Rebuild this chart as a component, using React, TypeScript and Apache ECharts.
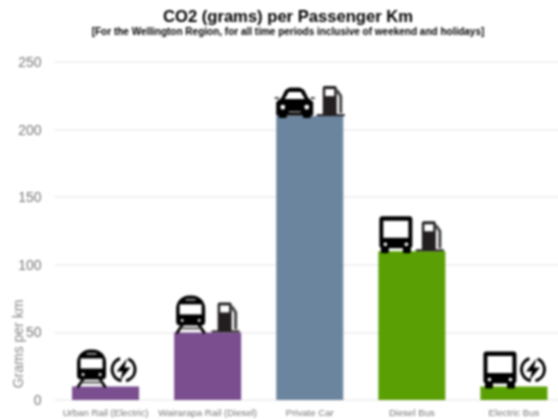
import React, { useEffect, useRef } from "react";
import * as echarts from "echarts";

const categories = ["Urban Rail (Electric)", "Wairarapa Rail (Diesel)", "Private Car", "Diesel Bus", "Electric Bus"];
const co2Values = [10, 50, 210, 110, 10];
const barColors = ["#7a4e8f", "#7a4e8f", "#6c859e", "#5aa004", "#5aa004"];
const vehicleKinds = ["train", "train", "car", "bus", "bus"];
const fuelKinds = ["bolt", "pump", "pump", "pump", "bolt"];
const yTicks = { min: 0, max: 250, interval: 50 };

const vehicleOffsets = [-14, -17, -15, -16, -14];
const fuelOffsets = [18, 4, 7, 4, 19];

const BLACK = "#000000";
const PUMP = "#231f20";

function train(): any[] {
  const f = { fill: BLACK };
  const w = { fill: "#fff" };
  return [
    { type: "line", shape: { x1: -8, y1: -9, x2: -14, y2: 0 }, style: { stroke: BLACK, lineWidth: 2.8 } },
    { type: "line", shape: { x1: 8, y1: -9, x2: 14, y2: 0 }, style: { stroke: BLACK, lineWidth: 2.8 } },
    { type: "line", shape: { x1: -10, y1: -5, x2: 10, y2: -5 }, style: { stroke: "#555", lineWidth: 2 } },
    { type: "rect", shape: { x: -14.5, y: -38, width: 29, height: 30, r: [13, 13, 4, 4] }, style: f },
    { type: "rect", shape: { x: -11, y: -29, width: 22, height: 10 }, style: w },
    { type: "rect", shape: { x: -5, y: -34.5, width: 10, height: 1.6 }, style: { fill: "#aaa" } },
    { type: "circle", shape: { cx: -8.5, cy: -13, r: 1.4 }, style: w },
    { type: "circle", shape: { cx: 8.5, cy: -13, r: 1.4 }, style: w },
  ];
}

function car(): any[] {
  const f = { fill: BLACK };
  const w = { fill: "#fff" };
  return [
    { type: "polygon", shape: { points: [[-13, -19], [-9, -27], [-5, -29], [5, -29], [9, -27], [13, -19], [18, -15], [18, -2], [-18, -2], [-18, -15]] }, style: { fill: BLACK, stroke: BLACK, lineWidth: 1 } },
    { type: "rect", shape: { x: -20, y: -20, width: 4, height: 2 }, style: { fill: "#444" } },
    { type: "rect", shape: { x: 16, y: -20, width: 4, height: 2 }, style: { fill: "#444" } },
    { type: "rect", shape: { x: -16, y: -3, width: 8, height: 4, r: 1 }, style: f },
    { type: "rect", shape: { x: 8, y: -3, width: 8, height: 4, r: 1 }, style: f },
    { type: "polygon", shape: { points: [[-10, -18], [-6, -25], [6, -25], [10, -18]] }, style: w },
    { type: "circle", shape: { cx: -12, cy: -10, r: 2.4 }, style: w },
    { type: "circle", shape: { cx: 12, cy: -10, r: 2.4 }, style: w },
    { type: "rect", shape: { x: -6, y: -6, width: 12, height: 1.6 }, style: { fill: "#888" } },
  ];
}

function bus(): any[] {
  const f = { fill: BLACK };
  const w = { fill: "#fff" };
  return [
    { type: "rect", shape: { x: -16.5, y: -36, width: 33, height: 32, r: 3 }, style: f },
    { type: "rect", shape: { x: -15, y: -6, width: 8, height: 7, r: 1.5 }, style: f },
    { type: "rect", shape: { x: 7, y: -6, width: 8, height: 7, r: 1.5 }, style: f },
    { type: "rect", shape: { x: -12.5, y: -31.5, width: 25, height: 17 }, style: w },
    { type: "circle", shape: { cx: -10.5, cy: -8, r: 1.8 }, style: w },
    { type: "circle", shape: { cx: 10.5, cy: -8, r: 1.8 }, style: w },
  ];
}

function pump(): any[] {
  return [
    { type: "rect", shape: { x: 0, y: -2, width: 28, height: 2 }, style: { fill: PUMP } },
    { type: "rect", shape: { x: 6, y: -30, width: 14, height: 29, r: [2, 2, 0, 0] }, style: { fill: PUMP } },
    { type: "rect", shape: { x: 8.5, y: -27, width: 9, height: 7 }, style: { fill: "#fff" } },
    { type: "polyline", shape: { points: [[20, -26], [24, -20], [24, -3]] }, style: { stroke: "#444", lineWidth: 3, fill: "none" } },
  ];
}

function bolt(): any[] {
  return [
    { type: "arc", shape: { cx: 0, cy: -17, r: 11.5, startAngle: 1.75, endAngle: 4.4 }, style: { stroke: BLACK, lineWidth: 3, fill: "none" } },
    { type: "arc", shape: { cx: 0, cy: -17, r: 11.5, startAngle: -1.15, endAngle: 1.35 }, style: { stroke: BLACK, lineWidth: 3, fill: "none" } },
    { type: "polygon", shape: { points: [[3.5, -28], [-7, -15], [-1, -15], [-3.5, -6], [7, -19], [1, -19]] }, style: { fill: BLACK } },
  ];
}

const shapes: Record<string, () => any[]> = { train, car, bus, pump, bolt };

export default function App() {
  const ref = useRef<HTMLDivElement>(null);
  useEffect(() => {
    document.body.style.margin = "0";
    const chart = echarts.init(ref.current!, undefined, { renderer: "svg" });
    chart.setOption({
      animation: false,
      backgroundColor: "#fff",
      textStyle: { fontFamily: "Liberation Sans" },
      grid: { left: 54.5, right: 0, top: 62, bottom: 19, containLabel: false },
      title: [
        {
          text: "CO2 (grams) per Passenger Km",
          left: 283,
          top: 3,
          textAlign: "center",
          textStyle: { fontSize: 16.6, fontWeight: "bold", color: "#000", fontFamily: "Liberation Sans" },
        },
        {
          text: "[For the Wellington Region, for all time periods inclusive of weekend and holidays]",
          left: 283,
          top: 21,
          textAlign: "center",
          textStyle: { fontSize: 10, fontWeight: "bold", color: "#000", fontFamily: "Liberation Sans" },
        },
      ],
      xAxis: {
        type: "category",
        data: categories,
        axisLine: { show: false },
        axisTick: { show: false },
        axisLabel: { interval: 0, fontSize: 9.6, color: "#777", margin: 7 },
      },
      yAxis: {
        type: "value",
        min: yTicks.min,
        max: yTicks.max,
        interval: yTicks.interval,
        axisLine: { show: false },
        axisTick: { show: false },
        axisLabel: { fontSize: 14, color: "#777", margin: 13 },
        splitLine: { lineStyle: { color: "#eeeeee", width: 1.5 } },
      },
      graphic: [
        {
          type: "text",
          x: 18,
          y: 344,
          rotation: Math.PI / 2,
          style: {
            text: "Grams per km",
            fontSize: 14,
            fontFamily: "Liberation Sans",
            fill: "#888",
            textAlign: "center",
            textVerticalAlign: "middle",
          },
        },
      ],
      series: [
        {
          type: "bar",
          barWidth: 67,
          silent: true,
          data: co2Values.map((v, i) => ({ value: v, itemStyle: { color: barColors[i] } })),
        },
        {
          type: "custom",
          silent: true,
          clip: false,
          z: 5,
          data: co2Values.map((v, i) => [i, v]),
          encode: { x: 0, y: 1 },
          renderItem: (params: any, api: any) => {
            const i = api.value(0);
            const [x, y] = api.coord([i, api.value(1)]);
            return {
              type: "group",
              children: [
                { type: "group", x: x + vehicleOffsets[i], y: y + 1, children: shapes[vehicleKinds[i]]() },
                { type: "group", x: x + fuelOffsets[i], y, children: shapes[fuelKinds[i]]() },
              ],
            };
          },
        },
      ],
    });
    return () => chart.dispose();
  }, []);
  return (
    <div style={{ width: 558, height: 419, position: "absolute", left: 0, top: 0, overflow: "hidden" }}>
      <div ref={ref} style={{ width: 564.5, height: 419, filter: "blur(0.8px)" }} />
    </div>
  );
}
